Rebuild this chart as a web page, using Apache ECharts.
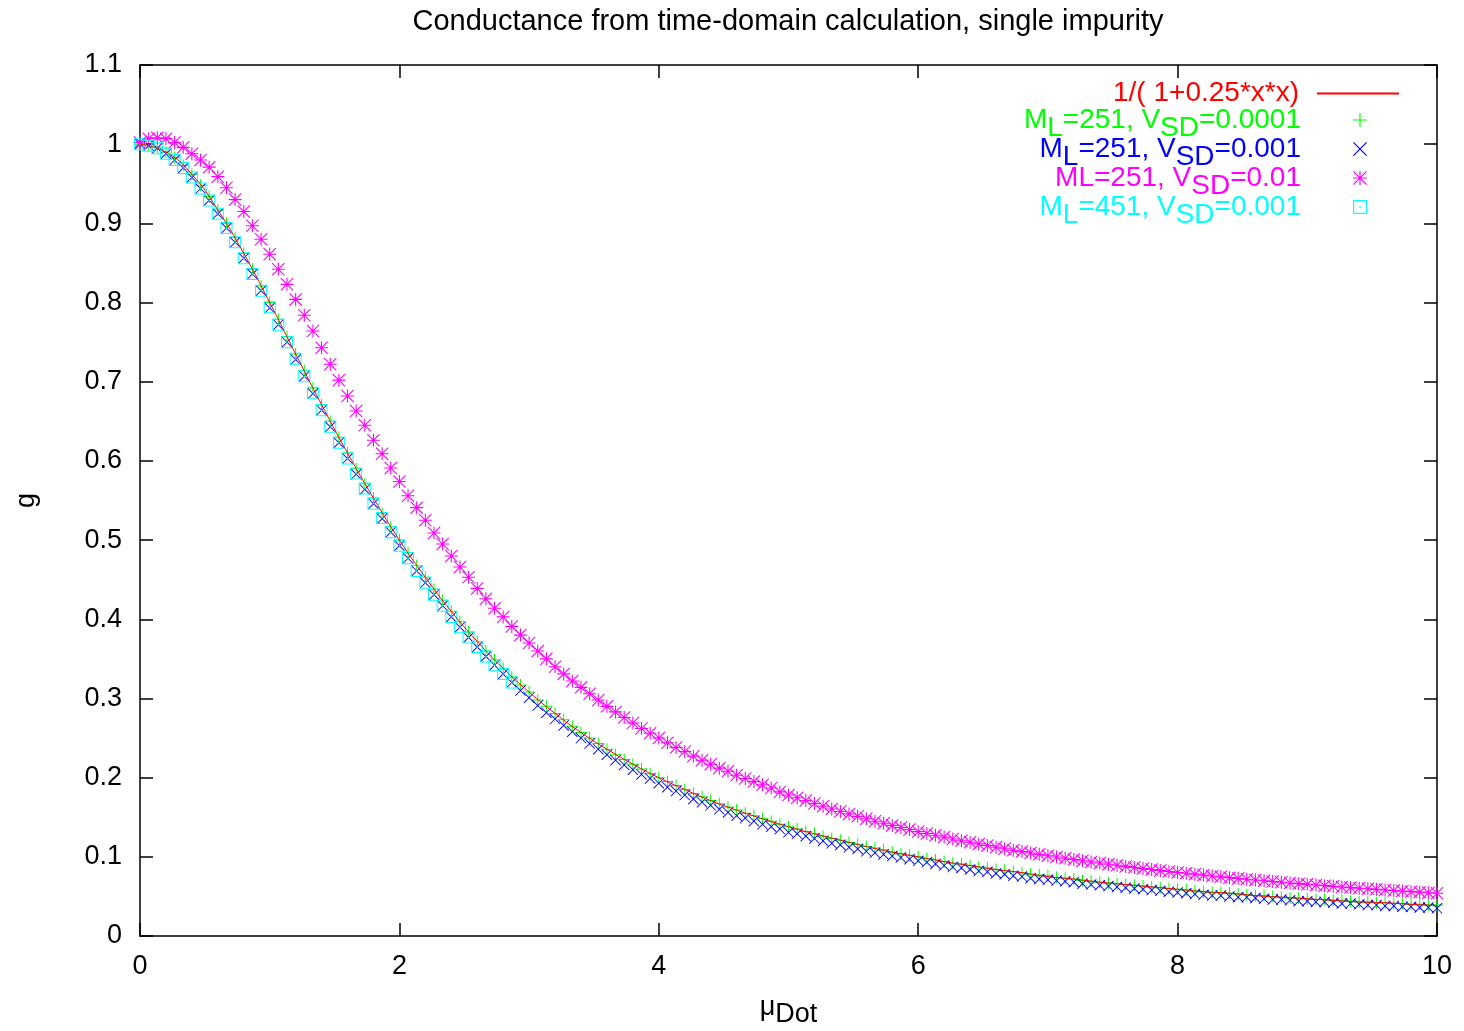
<!DOCTYPE html>
<html><head><meta charset="utf-8">
<script src="https://cdn.jsdelivr.net/npm/echarts@6/dist/echarts.min.js"></script>
<style>html,body{margin:0;padding:0;background:#fff}#c{width:1464px;height:1031px}</style>
</head><body><div id="c"></div>
<script>
// x positions (mu_Dot) of the computed points
const muDot = [
0, 0.0667, 0.1333, 0.2, 0.2667, 0.3333, 0.4, 0.4667, 0.5333, 0.6, 0.6667, 0.7333, 0.8, 0.8667, 0.9333,
1, 1.0667, 1.1333, 1.2, 1.2667, 1.3333, 1.4, 1.4667, 1.5333, 1.6, 1.6667, 1.7333, 1.8, 1.8667, 1.9333,
2, 2.0667, 2.1333, 2.2, 2.2667, 2.3333, 2.4, 2.4667, 2.5333, 2.6, 2.6667, 2.7333, 2.8, 2.8667, 2.9333,
3, 3.0667, 3.1333, 3.2, 3.2667, 3.3333, 3.4, 3.4667, 3.5333, 3.6, 3.6667, 3.7333, 3.8, 3.8667, 3.9333,
4, 4.0667, 4.1333, 4.2, 4.2667, 4.3333, 4.4, 4.4667, 4.5333, 4.6, 4.6667, 4.7333, 4.8, 4.8667, 4.9333,
5, 5.0667, 5.1333, 5.2, 5.2667, 5.3333, 5.4, 5.4667, 5.5333, 5.6, 5.6667, 5.7333, 5.8, 5.8667, 5.9333,
6, 6.0667, 6.1333, 6.2, 6.2667, 6.3333, 6.4, 6.4667, 6.5333, 6.6, 6.6667, 6.7333, 6.8, 6.8667, 6.9333,
7, 7.0667, 7.1333, 7.2, 7.2667, 7.3333, 7.4, 7.4667, 7.5333, 7.6, 7.6667, 7.7333, 7.8, 7.8667, 7.9333,
8, 8.0667, 8.1333, 8.2, 8.2667, 8.3333, 8.4, 8.4667, 8.5333, 8.6, 8.6667, 8.7333, 8.8, 8.8667, 8.9333,
9, 9.0667, 9.1333, 9.2, 9.2667, 9.3333, 9.4, 9.4667, 9.5333, 9.6, 9.6667, 9.7333, 9.8, 9.8667, 9.9333,
10];

// M_L=251, V_SD=0.0001
const gGreen = [
1.000,0.999,0.996,0.990,0.983,0.973,0.962,0.948,0.934,0.917,
0.900,0.882,0.862,0.842,0.821,0.800,0.779,0.757,0.735,0.714,
0.692,0.671,0.650,0.630,0.610,0.590,0.571,0.553,0.534,0.517,
0.500,0.484,0.468,0.453,0.438,0.424,0.410,0.397,0.384,0.372,
0.360,0.349,0.338,0.327,0.317,0.308,0.298,0.290,0.281,0.273,
0.265,0.257,0.250,0.243,0.236,0.229,0.223,0.217,0.211,0.205,
0.200,0.195,0.190,0.185,0.180,0.176,0.171,0.167,0.163,0.159,
0.155,0.152,0.148,0.145,0.141,0.138,0.135,0.132,0.129,0.126,
0.123,0.121,0.118,0.116,0.113,0.111,0.109,0.106,0.104,0.102,
0.100,0.098,0.096,0.094,0.092,0.091,0.089,0.087,0.086,0.084,
0.083,0.081,0.080,0.078,0.077,0.076,0.074,0.073,0.072,0.070,
0.069,0.068,0.067,0.066,0.065,0.064,0.063,0.062,0.061,0.060,
0.059,0.058,0.057,0.056,0.055,0.055,0.054,0.053,0.052,0.051,
0.051,0.050,0.049,0.048,0.048,0.047,0.046,0.046,0.045,0.045,
0.044,0.043,0.043,0.042,0.042,0.041,0.041,0.040,0.040,0.039,
0.039];

// M_L=251, V_SD=0.001
const gBlue = [
1.000,0.998,0.995,0.988,0.980,0.970,0.958,0.944,0.929,0.912,
0.894,0.876,0.856,0.836,0.815,0.793,0.772,0.750,0.728,0.707,
0.685,0.664,0.643,0.623,0.603,0.583,0.564,0.546,0.527,0.510,
0.493,0.477,0.461,0.446,0.431,0.417,0.403,0.390,0.377,0.365,
0.353,0.342,0.331,0.320,0.310,0.301,0.291,0.282,0.274,0.266,
0.258,0.250,0.243,0.236,0.229,0.222,0.216,0.210,0.204,0.199,
0.193,0.188,0.183,0.178,0.173,0.169,0.165,0.160,0.156,0.152,
0.149,0.145,0.141,0.138,0.135,0.131,0.129,0.126,0.123,0.120,
0.117,0.115,0.112,0.110,0.107,0.105,0.103,0.101,0.099,0.097,
0.095,0.093,0.091,0.089,0.087,0.086,0.084,0.082,0.081,0.079,
0.078,0.076,0.075,0.073,0.072,0.071,0.070,0.069,0.068,0.066,
0.065,0.064,0.063,0.062,0.061,0.060,0.059,0.058,0.057,0.056,
0.055,0.054,0.053,0.052,0.051,0.051,0.050,0.049,0.049,0.048,
0.047,0.046,0.046,0.045,0.044,0.044,0.043,0.043,0.042,0.041,
0.041,0.040,0.039,0.039,0.038,0.038,0.037,0.037,0.036,0.036,
0.035];

// ML=251, V_SD=0.01
const gMagenta = [
1.002,1.007,1.008,1.007,1.002,0.996,0.988,0.980,0.971,0.959,
0.945,0.930,0.915,0.897,0.880,0.861,0.842,0.823,0.804,0.784,
0.764,0.743,0.722,0.702,0.682,0.663,0.645,0.626,0.609,0.591,
0.574,0.556,0.541,0.525,0.509,0.495,0.480,0.466,0.453,0.439,
0.426,0.414,0.403,0.391,0.380,0.370,0.360,0.350,0.340,0.331,
0.322,0.314,0.306,0.298,0.290,0.283,0.276,0.269,0.262,0.256,
0.250,0.244,0.238,0.233,0.227,0.222,0.217,0.212,0.208,0.203,
0.199,0.195,0.191,0.187,0.182,0.178,0.1745,0.1710,0.1674,0.1639,
0.1603,0.1572,0.1542,0.1511,0.1481,0.1450,0.1424,0.1397,0.1371,0.1344,
0.1318,0.1295,0.1272,0.1249,0.1226,0.1203,0.1183,0.1163,0.1142,0.1122,
0.1102,0.1084,0.1066,0.1049,0.1031,0.1013,0.0997,0.0982,0.0966,0.0951,
0.0935,0.0921,0.0907,0.0893,0.0879,0.0865,0.0853,0.0840,0.0828,0.0815,
0.0803,0.0792,0.0781,0.0769,0.0758,0.0747,0.0737,0.0727,0.0717,0.0707,
0.0697,0.0688,0.0679,0.0670,0.0661,0.0652,0.0644,0.0636,0.0627,0.0619,
0.0611,0.0604,0.0596,0.0589,0.0581,0.0574,0.0567,0.0560,0.0554,0.0547,
0.0540];

// M_L=451, V_SD=0.001 (only computed up to mu ~ 2.87)
const gCyan = [
1.000,0.998,0.995,0.988,0.980,0.970,0.958,0.944,0.929,0.912,
0.894,0.876,0.856,0.836,0.815,0.794,0.772,0.750,0.729,0.707,
0.686,0.664,0.643,0.623,0.603,0.584,0.565,0.546,0.528,0.510,
0.493,0.477,0.461,0.446,0.431,0.417,0.403,0.390,0.377,0.365,
0.353,0.342,0.331,0.320];

// reference curve 1/(1+0.25*x*x), read at steps of 0.2
const curveX = [0,0.2,0.4,0.6,0.8,1,1.2,1.4,1.6,1.8,2,2.2,2.4,2.6,2.8,3,3.2,3.4,3.6,3.8,4,4.2,4.4,4.6,4.8,5,
5.2,5.4,5.6,5.8,6,6.2,6.4,6.6,6.8,7,7.2,7.4,7.6,7.8,8,8.2,8.4,8.6,8.8,9,9.2,9.4,9.6,9.8,10];
const curveY = [1.000,0.990,0.962,0.917,0.862,0.800,0.735,0.671,0.610,0.553,0.500,0.453,0.410,0.372,0.338,0.308,
0.281,0.257,0.236,0.217,0.200,0.185,0.171,0.159,0.148,0.138,0.129,0.121,0.113,0.106,0.100,0.094,0.089,0.084,
0.080,0.075,0.072,0.068,0.065,0.062,0.059,0.056,0.054,0.051,0.049,0.047,0.045,0.043,0.042,0.040,0.0385];

const FONT = '"Liberation Sans", Arial, Helvetica, sans-serif';
const N_RED = '1/( 1+0.25*x*x)';
const N_G = 'M_L=251, V_SD=0.0001';
const N_B = 'M_L=251, V_SD=0.001';
const N_M = 'ML=251, V_SD=0.01';
const N_C = 'M_L=451, V_SD=0.001';
const richLabel = {};
richLabel[N_RED] = '{n|1/( 1+0.25*x*x)}';
richLabel[N_G] = '{n|M}{s|L}{n|=251, V}{s|SD}{n|=0.0001}';
richLabel[N_B] = '{n|M}{s|L}{n|=251, V}{s|SD}{n|=0.001}';
richLabel[N_M] = '{n|ML=251, V}{s|SD}{n|=0.01}';
richLabel[N_C] = '{n|M}{s|L}{n|=451, V}{s|SD}{n|=0.001}';

const COL = {red:'#ff0000', green:'#00ff00', blue:'#0000ff', magenta:'#ff00ff', cyan:'#00ffff'};

const SYM_PLUS = 'path://M-0.5,-6L0.5,-6L0.5,6L-0.5,6ZM-6,-0.5L6,-0.5L6,0.5L-6,0.5Z';
const SYM_CROSS = 'path://M-5.3,-6L6,5.3L5.3,6L-6,-5.3ZM5.3,-6L6,-5.3L-5.3,6L-6,5.3Z';
const SYM_STAR = 'path://M-0.5,-6L0.5,-6L0.5,6L-0.5,6ZM-6,-0.5L6,-0.5L6,0.5L-6,0.5ZM-5.3,-6L6,5.3L5.3,6L-6,-5.3ZM5.3,-6L6,-5.3L-5.3,6L-6,5.3Z';
const SYM_BOX = 'path://M-6,-6L6,-6L6,6L-6,6ZM-5,-5L-5,5L5,5L5,-5ZM-0.7,-0.7L0.7,-0.7L0.7,0.7L-0.7,0.7Z';

const pts = (xs, ys) => ys.map((y, i) => [xs[i], y]);

const LFS = 28;
function richFor(color) {
  return {
    n: {fontFamily: FONT, fontSize: LFS, color: color, lineHeight: 29},
    s: {fontFamily: FONT, fontSize: LFS, color: color, lineHeight: 29, padding: [16, 0, 0, 0]}
  };
}
function legendItem(name, color, extra) {
  return Object.assign({name: name, textStyle: {color: color, rich: richFor(color)}}, extra || {});
}
const legendCommon = {
  orient: 'vertical', align: 'right', padding: 0, itemWidth: 82, itemHeight: 14,
  selectedMode: false,
  formatter: name => richLabel[name],
  textStyle: {fontFamily: FONT, fontSize: LFS, lineHeight: 29, padding: [0, 13, 0, 0]}
};

const axisLineStyle = {color: '#000', width: 1.5};
function xAx(pos, showLabel) {
  return {
    type: 'value', min: 0, max: 10, interval: 2, position: pos,
    axisLine: {show: true, onZero: false, lineStyle: axisLineStyle},
    axisTick: {show: true, inside: true, length: 13, lineStyle: axisLineStyle},
    axisLabel: {show: showLabel, fontFamily: FONT, fontSize: 27, color: '#000', margin: 17},
    splitLine: {show: false}
  };
}
function yAx(pos, showLabel) {
  return {
    type: 'value', min: 0, max: 1.1, interval: 0.1, position: pos,
    axisLine: {show: true, onZero: false, lineStyle: axisLineStyle},
    axisTick: {show: true, inside: true, length: 13, lineStyle: axisLineStyle},
    axisLabel: {show: showLabel, fontFamily: FONT, fontSize: 27, color: '#000', margin: 18},
    splitLine: {show: false}
  };
}

const xBottom = xAx('bottom', true);
Object.assign(xBottom, {
  name: '{m|μ}{s|Dot}', nameLocation: 'middle', nameGap: 58,
  nameTextStyle: {rich: {
    m: {fontFamily: FONT, fontSize: 27, color: '#000', lineHeight: 28},
    s: {fontFamily: FONT, fontSize: 27, color: '#000', lineHeight: 28, padding: [14, 0, 0, 0]}
  }}
});
const xTop = xAx('top', false);
const yLeft = yAx('left', true);
Object.assign(yLeft, {name: 'g', nameLocation: 'middle', nameGap: 100,
  nameTextStyle: {fontFamily: FONT, fontSize: 27, color: '#000'}});
const yRight = yAx('right', false);

const chart = echarts.init(document.getElementById('c'), null, {renderer: 'canvas'});
chart.setOption({
  animation: false,
  backgroundColor: '#fff',
  grid: {left: 140, right: 27, top: 65, bottom: 95, containLabel: false, outerBoundsMode: 'none'},
  graphic: [{
    type: 'text', x: 788, y: 22,
    style: {text: 'Conductance from time-domain calculation, single impurity',
      font: '29px ' + FONT, fill: '#000', align: 'center', verticalAlign: 'middle',
      textAlign: 'center', textVerticalAlign: 'middle'}
  }],
  xAxis: [xBottom, xTop],
  yAxis: [yLeft, yRight],
  legend: [
    Object.assign({}, legendCommon, {top: 79, right: 64, itemGap: 0,
      data: [legendItem(N_RED, COL.red, {itemStyle: {opacity: 0}})]}),
    Object.assign({}, legendCommon, {top: 98, right: 97, itemGap: -15, data: [
      legendItem(N_G, COL.green), legendItem(N_B, COL.blue),
      legendItem(N_M, COL.magenta), legendItem(N_C, COL.cyan)]})
  ],
  series: [
    {name: N_RED, type: 'line', xAxisIndex: 0, yAxisIndex: 0, data: pts(curveX, curveY),
      smooth: true, symbol: 'none', lineStyle: {color: COL.red, width: 1}, itemStyle: {color: COL.red}},
    {name: N_G, type: 'scatter', xAxisIndex: 0, yAxisIndex: 0, data: pts(muDot, gGreen),
      symbol: SYM_PLUS, symbolSize: 12, itemStyle: {color: COL.green, opacity: 1}},
    {name: N_B, type: 'scatter', xAxisIndex: 0, yAxisIndex: 0, data: pts(muDot, gBlue),
      symbol: SYM_CROSS, symbolSize: 11, itemStyle: {color: COL.blue, opacity: 1}},
    {name: N_M, type: 'scatter', xAxisIndex: 0, yAxisIndex: 0, data: pts(muDot, gMagenta),
      symbol: SYM_STAR, symbolSize: 13, itemStyle: {color: COL.magenta, opacity: 1}},
    {name: N_C, type: 'scatter', xAxisIndex: 0, yAxisIndex: 0, data: pts(muDot, gCyan),
      symbol: SYM_BOX, symbolSize: 12, itemStyle: {color: COL.cyan, opacity: 1}}
  ]
});
</script>
</body></html>
